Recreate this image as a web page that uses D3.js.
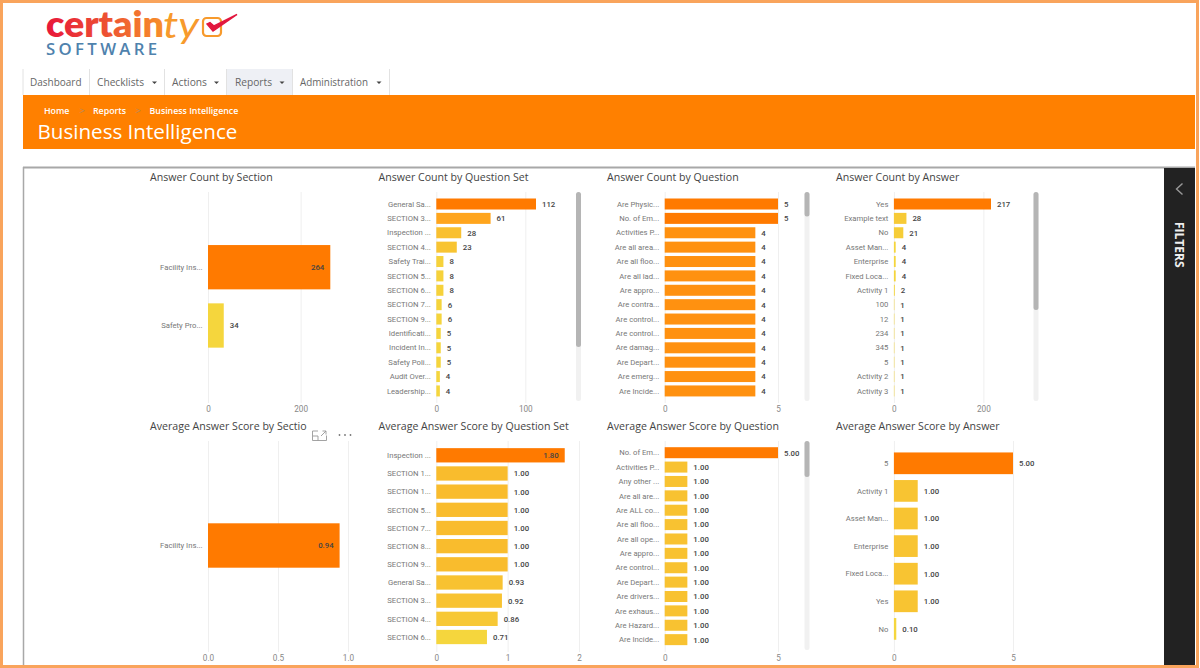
<!DOCTYPE html>
<html><head><meta charset="utf-8">
<script src="https://cdn.jsdelivr.net/npm/d3@7/dist/d3.min.js"></script>
<style>
html,body{margin:0;padding:0;background:#fff;overflow:hidden}
svg{display:block}
text{font-family:"Open Sans","Noto Sans",sans-serif}
</style></head><body>
<svg id="c" width="1200" height="668"></svg>
<script>
// ---- data ----
const navItems = ["Dashboard","Checklists","Actions","Reports","Administration"];
const crumbs = ["Home","Reports","Business Intelligence"];
const pageTitle = "Business Intelligence";

const catSection = ["Facility Ins...","Safety Pro..."];
const valSection = [264,34];
const catSet = ["General Sa...","SECTION 3...","Inspection ...","SECTION 4...","Safety Trai...","SECTION 5...","SECTION 6...","SECTION 7...","SECTION 9...","Identificati...","Incident In...","Safety Poli...","Audit Over...","Leadership..."];
const valSet = [112,61,28,23,8,8,8,6,6,5,5,5,4,4];
const catQuestion = ["Are Physic...","No. of Em...","Activities P...","Are all area...","Are all floo...","Are all lad...","Are appro...","Are contra...","Are control...","Are control...","Are damag...","Are Depart...","Are emerg...","Are Incide..."];
const valQuestion = [5,5,4,4,4,4,4,4,4,4,4,4,4,4];
const catAnswer = ["Yes","Example text","No","Asset Man...","Enterprise","Fixed Loca...","Activity 1","100","12","234","345","5","Activity 2","Activity 3"];
const valAnswer = [217,28,21,4,4,4,2,1,1,1,1,1,1,1];

const catScoreSection = ["Facility Ins..."];
const valScoreSection = [0.94];
const catScoreSet = ["Inspection ...","SECTION 1...","SECTION 1...","SECTION 5...","SECTION 7...","SECTION 8...","SECTION 9...","General Sa...","SECTION 3...","SECTION 4...","SECTION 6..."];
const valScoreSet = [1.80,1.00,1.00,1.00,1.00,1.00,1.00,0.93,0.92,0.86,0.71];
const catScoreQuestion = ["No. of Em...","Activities P...","Any other ...","Are all are...","Are ALL co...","Are all floo...","Are all ope...","Are appro...","Are control...","Are Depart...","Are drivers...","Are exhaus...","Are Hazard...","Are Incide..."];
const valScoreQuestion = [5,1,1,1,1,1,1,1,1,1,1,1,1,1];
const catScoreAnswer = ["5","Activity 1","Asset Man...","Enterprise","Fixed Loca...","Yes","No"];
const valScoreAnswer = [5,1,1,1,1,1,0.10];

const ticksCount = [0,200], ticksSet = [0,100], ticksFive = [0,5];
const ticksUnit = [0,0.5,1], ticksTwo = [0,1,2];

// ---- panels (layout built around the arrays above) ----
const rowTop = [192,441], rowH = 211;
const step14 = 14.38;
const panels = [
 {title:"Answer Count by Section",tx:150,ty:180.5,cats:catSection,vals:valSection,dom:[0,264],rng:[208,330.3],ticks:ticksCount,fmt:d=>d,lab:d=>d,row:0,c0:267.2,step:58.3,bar:44.3,lo:34,hi:264,inside:true},
 {title:"Answer Count by Question Set",tx:378.5,ty:180.5,cats:catSet,vals:valSet,dom:[0,112],rng:[436.3,536],ticks:ticksSet,fmt:d=>d,lab:d=>d,row:0,c0:204,step:step14,bar:11,lo:4,hi:112,scroll:[576,192,401,347]},
 {title:"Answer Count by Question",tx:607,ty:180.5,cats:catQuestion,vals:valQuestion,dom:[0,5],rng:[664.7,778],ticks:ticksFive,fmt:d=>d,lab:d=>d,row:0,c0:204,step:step14,bar:11,lo:1,hi:5,scroll:[804.5,192,401,216.5]},
 {title:"Answer Count by Answer",tx:836,ty:180.5,cats:catAnswer,vals:valAnswer,dom:[0,217],rng:[893.9,991],ticks:ticksCount,fmt:d=>d,lab:d=>d,row:0,c0:204,step:step14,bar:11,lo:1,hi:217,scroll:[1033.5,192,401,310]},
 {title:"Average Answer Score by Sectio",tx:150,ty:429.5,cats:catScoreSection,vals:valScoreSection,dom:[0,1],rng:[208,348],ticks:ticksUnit,fmt:d3.format(".1f"),lab:d3.format(".2f"),row:1,c0:545.5,step:58.3,bar:44.4,lo:0,hi:0.94,inside:true},
 {title:"Average Answer Score by Question Set",tx:378.5,ty:429.5,cats:catScoreSet,vals:valScoreSet,dom:[0,2],rng:[436.3,579],ticks:ticksTwo,fmt:d=>d,lab:d3.format(".2f"),row:1,c0:455.3,step:18.17,bar:14.3,lo:0.71,hi:1.8,inside:true},
 {title:"Average Answer Score by Question",tx:607,ty:429.5,cats:catScoreQuestion,vals:valScoreQuestion,dom:[0,5],rng:[664.7,778],ticks:ticksFive,fmt:d=>d,lab:d3.format(".2f"),row:1,c0:452.7,step:step14,bar:11,lo:0,hi:5,scroll:[804.5,441,650,477]},
 {title:"Average Answer Score by Answer",tx:836,ty:429.5,cats:catScoreAnswer,vals:valScoreAnswer,dom:[0,5],rng:[893.9,1013],ticks:ticksFive,fmt:d=>d,lab:d3.format(".2f"),row:1,c0:463.3,step:27.6,bar:21.7,lo:0.1,hi:5}
];

const svg = d3.select("#c");
const defs = svg.append("defs");
const grad = defs.append("linearGradient").attr("id","logoGrad").attr("x1","0").attr("x2","1").attr("y1","0").attr("y2","0");
grad.append("stop").attr("offset","0").attr("stop-color","#e8173a");
grad.append("stop").attr("offset","0.45").attr("stop-color","#ec4a34");
grad.append("stop").attr("offset","1").attr("stop-color","#f7902a");

// ---- logo ----
const logo = svg.append("g");
logo.append("text").attr("x",46).attr("y",37).attr("font-size",35).attr("font-weight",800).attr("textLength",118).attr("lengthAdjust","spacingAndGlyphs")
  .style("font-family","Lato").attr("fill","url(#logoGrad)").text("certain");
logo.append("text").attr("x",163).attr("y",38).attr("font-size",36).attr("font-weight",400).attr("textLength",36).attr("lengthAdjust","spacingAndGlyphs")
  .style("font-family","Lato").attr("font-style","italic").attr("fill","#f79a2c").text("ty");
logo.append("text").attr("x",46).attr("y",55).attr("font-size",16.8).attr("font-weight",600).attr("letter-spacing",2.8)
  .attr("textLength",114).style("font-family","'Open Sans'").attr("fill","#4f82ad").text("SOFTWARE");
logo.append("rect").attr("x",203).attr("y",18).attr("width",18).attr("height",18).attr("rx",3.5).attr("fill","none").attr("stroke","#f79a2c").attr("stroke-width",2.2);
logo.append("path").attr("d","M207 24 L213 31 L237 14.5 L214 26 L210 22.5 Z").attr("fill","#e2173e").attr("stroke","#e2173e").attr("stroke-width",1.4);

// ---- nav ----
const navEdges = [23,89.5,164.5,226.5,292.5,389.5];
const navTextX = [30,97,172,235,300];
const navTextW = [51.5,47,35,37,68];
const navCaretX = [154.5,216.5,282,379];
const nav = svg.append("g");
nav.selectAll("rect").data(navItems).join("rect")
  .attr("x",(d,i)=>navEdges[i]).attr("y",69).attr("height",26)
  .attr("width",(d,i)=>navEdges[i+1]-navEdges[i])
  .attr("fill",d=>d==="Reports"?"#eef0f5":"#fff");
nav.selectAll("line").data(navEdges).join("line")
  .attr("x1",d=>d).attr("x2",d=>d).attr("y1",69).attr("y2",95).attr("stroke","#e2e2e2");
nav.selectAll("text").data(navItems).join("text")
  .attr("x",(d,i)=>navTextX[i]).attr("y",86).attr("font-size",11.2).attr("fill","#666")
  .attr("textLength",(d,i)=>navTextW[i]).attr("lengthAdjust","spacingAndGlyphs").text(d=>d);
nav.selectAll("path").data(navCaretX).join("path")
  .attr("d",d=>`M${d-2.5} 81.5 h5 l-2.5 2.5 z`).attr("fill","#444");

// ---- banner ----
svg.append("rect").attr("x",23).attr("y",95).attr("width",1172).attr("height",54).attr("fill","#ff8000");
const crumbX = [44,93,149.5];
svg.selectAll(".crumb").data(crumbs).join("text").attr("class","crumb")
  .attr("x",(d,i)=>crumbX[i]).attr("y",114).attr("font-size",8.8).attr("font-weight",600).attr("fill","#fff").text(d=>d);
svg.selectAll(".sep").data([79.5,135.5]).join("text").attr("class","sep")
  .attr("x",d=>d).attr("y",114).attr("font-size",9.4).attr("fill","#b08a60").text(">");
svg.append("text").attr("x",37.5).attr("y",139).attr("font-size",20.6).attr("fill","#fff").text(pageTitle);

// ---- report frame ----
svg.append("line").attr("x1",23).attr("x2",1195).attr("y1",167.5).attr("y2",167.5).attr("stroke","#a8a8a8").attr("stroke-width",2);
svg.append("line").attr("x1",23.5).attr("x2",23.5).attr("y1",167).attr("y2",668).attr("stroke","#a8a8a8").attr("stroke-width",1.5);
svg.append("rect").attr("x",1164).attr("y",168).attr("width",31).attr("height",500).attr("fill","#222");
svg.append("path").attr("d","M1182.5 183.5 L1176.5 189 L1182.5 194.5").attr("fill","none").attr("stroke","#999").attr("stroke-width",1.4);
svg.append("text").attr("transform","translate(1175,222) rotate(90)").attr("font-size",12).attr("font-weight",700).attr("fill","#eee").text("FILTERS");

// ---- colour ramp ----
const ramp = d3.scaleLinear().domain([0,0.25,0.55,1]).range(["#f5d63d","#f9bd2e","#ffa31c","#ff7a00"]).clamp(true);

// ---- charts ----
panels.forEach((p,idx)=>{
  const g = svg.append("g");
  const top = rowTop[p.row];
  const x = d3.scaleLinear().domain(p.dom).range(p.rng);
  const y = d3.scaleBand().domain(p.cats.map((d,i)=>i))
     .range([p.c0-p.step/2, p.c0-p.step/2+p.step*p.cats.length])
     .paddingInner(1-p.bar/p.step).paddingOuter((1-p.bar/p.step)/2);
  const color = v => ramp(p.hi===p.lo?1:(v-p.lo)/(p.hi-p.lo));

  g.append("text").attr("x",p.tx).attr("y",p.ty).attr("font-size",10.6).attr("fill","#444").text(p.title);

  const ax = g.append("g").attr("transform",`translate(0,${top+rowH})`)
     .call(d3.axisBottom(x).tickValues(p.ticks).tickFormat(p.fmt).tickSize(-rowH).tickPadding(3));
  ax.select(".domain").remove();
  ax.selectAll(".tick line").attr("stroke","#efefef");
  ax.selectAll(".tick text").attr("font-size",8.2).attr("fill","#888").style("font-family","Roboto");

  g.selectAll(".bar").data(p.vals).join("rect").attr("class","bar")
    .attr("x",x(0)).attr("y",(d,i)=>y(i)).attr("height",y.bandwidth())
    .attr("width",d=>x(d)-x(0)).attr("fill",d=>color(d));

  g.selectAll(".cat").data(p.cats).join("text").attr("class","cat")
    .attr("x",x(0)-5.5).attr("y",(d,i)=>y(i)+y.bandwidth()/2).attr("dy","0.35em")
    .attr("text-anchor","end").attr("font-size",7.7).attr("fill","#777").style("font-family","Roboto").text(d=>d);

  g.selectAll(".val").data(p.vals).join("text").attr("class","val")
    .attr("x",(d,i)=>(p.inside&&i===0)?x(d)-6:x(d)+6)
    .attr("text-anchor",(d,i)=>(p.inside&&i===0)?"end":"start")
    .attr("y",(d,i)=>y(i)+y.bandwidth()/2).attr("dy","0.37em")
    .attr("font-size",7.8).attr("font-weight",500).attr("fill","#444").style("font-family","Roboto").text(d=>p.lab(d));

  if(p.scroll){
    const [sx,s0,s1,s2]=p.scroll;
    g.append("rect").attr("x",sx).attr("y",s0).attr("width",5).attr("height",s1-s0).attr("rx",2.5).attr("fill","#f1f1f1");
    g.append("rect").attr("x",sx).attr("y",s0).attr("width",5).attr("height",s2-s0).attr("rx",2.5).attr("fill","#b5b5b5");
  }
});

// ---- visual header icons ----
const icons = svg.append("g");
icons.append("path").attr("d","M318 431 h-5.5 v9.5 h14 v-5 M313 436 h5 v4.5 M321 436 l5 -5 M322.5 431 h3.5 v3.5").attr("fill","none").attr("stroke","#999").attr("stroke-width",0.9);
icons.selectAll("circle").data([339.5,345,350.5]).join("circle").attr("cx",d=>d).attr("cy",435).attr("r",0.9).attr("fill","#777");

// ---- outer border ----
svg.append("rect").attr("x",1.5).attr("y",1.5).attr("width",1196).attr("height",665).attr("fill","none").attr("stroke","#f9a45c").attr("stroke-width",3);
</script>
</body></html>
